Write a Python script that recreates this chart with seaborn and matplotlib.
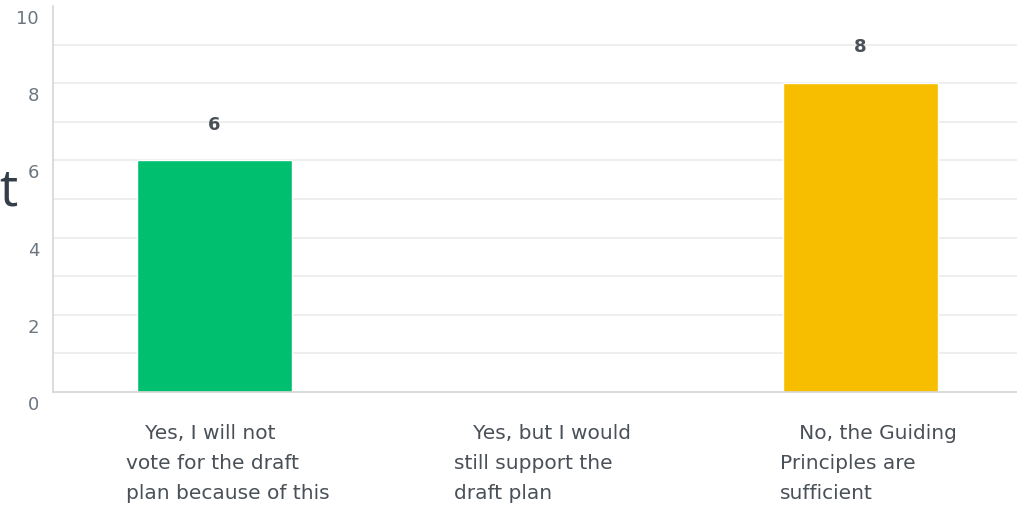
import matplotlib
matplotlib.use("Agg")
import matplotlib.pyplot as plt
import matplotlib.transforms as mtransforms
import seaborn as sns
import pandas as pd

# data
categories = ["   Yes, I will not\nvote for the draft\nplan because of this",
              "   Yes, but I would\nstill support the\ndraft plan",
              "   No, the Guiding\nPrinciples are\nsufficient"]
counts = [6, 0, 8]
bar_colors = ["#00BF6F", "#00BF6F", "#F7BE00"]
y_ticks = [0, 2, 4, 6, 8, 10]

sns.set_theme(style="white")
plt.rcParams['font.family'] = ['DejaVu Sans']

df = pd.DataFrame({"answer": categories, "count": counts})

fig = plt.figure(figsize=(10.17, 5.06), dpi=100)
ax = fig.add_axes([53/1017, 113/506, 969/1017, 386/506])

sns.barplot(data=df, x="answer", y="count", hue="answer", palette=bar_colors,
            width=0.48, legend=False, ax=ax, saturation=1)

ax.set_xlim(-0.5, 2.5)
ax.set_ylim(0, 10)
ax.set_xlabel("")
ax.set_ylabel("")

# light grid at every unit (none at the top)
for v in range(1, 10):
    ax.axhline(v, color="#ebebeb", lw=1.2, zorder=0)
ax.set_axisbelow(True)

for s in ["top", "right"]:
    ax.spines[s].set_visible(False)
ax.spines["left"].set_color("#d5d5d5")
ax.spines["bottom"].set_color("#d5d5d5")
ax.spines["left"].set_linewidth(1.2)
ax.spines["bottom"].set_linewidth(1.2)

ax.set_yticks(y_ticks)
ax.set_yticklabels([str(t) for t in y_ticks], fontsize=13, color="#6b7680")
ax.tick_params(axis="y", length=0, pad=10)
shift = mtransforms.ScaledTranslation(0, -10/100, fig.dpi_scale_trans)
for lab in ax.get_yticklabels():
    lab.set_transform(lab.get_transform() + shift)

ax.tick_params(axis="x", length=0, pad=22)
ax.set_xticks(range(len(categories)))
ax.set_xticklabels(categories, fontsize=14.5, color="#4a5057", ha="left",
                   linespacing=1.75)
for lab, dx in zip(ax.get_xticklabels(), [-88, -83, -81]):
    lab.set_transform(lab.get_transform() +
                      mtransforms.ScaledTranslation(dx/100, 0, fig.dpi_scale_trans))

for cont in ax.containers:
    labels = [str(int(b.get_height())) if b.get_height() > 0 else "" for b in cont]
    ax.bar_label(cont, labels=labels, padding=20, fontsize=13,
                 fontweight="bold", color="#4a5057")

# clipped title fragment at left edge
fig.text(17/1017, 1 - 192/506, "t", fontsize=37, color="#333e48",
         ha="right", va="center", family="Open Sans")

fig.savefig("out.png", dpi=100)
